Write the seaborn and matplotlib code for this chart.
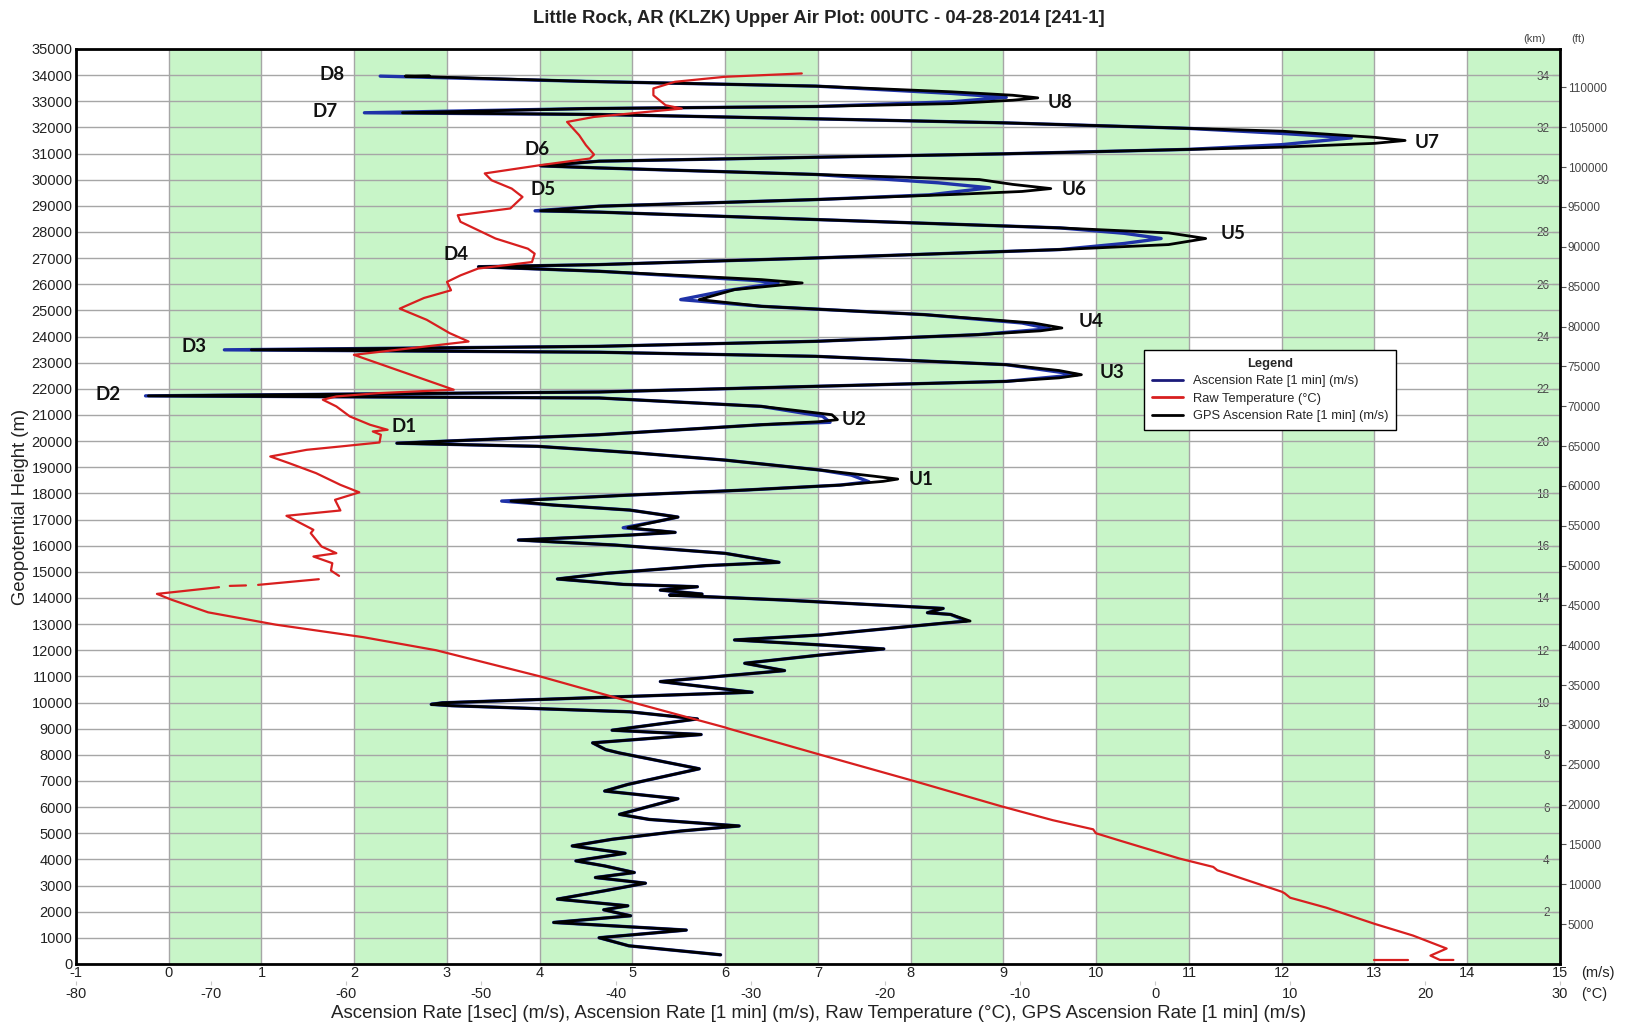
import matplotlib
matplotlib.use("Agg")
import matplotlib.pyplot as plt
from matplotlib.lines import Line2D
import pandas as pd
import seaborn as sns

# ---------------------------------------------------------------------------
# Sounding data, KLZK 00UTC 04-28-2014, flight 241-1
# ---------------------------------------------------------------------------

# GPS ascension rate [1 min] (m/s) and its geopotential height (m), bottom to top
gps_rate = [
    5.95, 4.96, 4.64, 5.58, 4.15, 4.98, 4.69, 4.95, 4.19, 4.70, 5.14, 4.60, 5.02,
    4.70, 4.39, 4.92, 4.35, 4.78, 5.52, 6.15, 5.18, 4.86, 5.49, 4.70, 4.95, 5.72,
    4.86, 4.71, 4.57, 5.74, 4.78, 5.70, 4.97, 3.05, 2.83, 2.95, 6.29, 5.30, 6.64,
    6.21, 7.03, 7.71, 7.03, 6.10, 7.03, 8.48, 8.64, 8.43, 8.18, 8.35, 6.62, 5.40,
    5.75, 5.30, 5.70, 4.90, 4.19, 4.72, 5.79, 6.58, 6.00, 4.81, 3.77, 4.97, 5.46,
    4.95, 5.34, 5.49, 4.97, 4.15, 3.69, 4.97, 6.21, 7.24, 7.70, 7.86, 7.60, 7.03,
    6.00, 4.97, 3.98, 2.46, 4.64, 6.39, 7.00, 7.21, 7.15, 6.39, 4.64, -0.22, 4.64,
    6.98, 9.03, 9.60, 9.84, 9.60, 9.03, 6.98, 4.64, 0.89, 4.64, 6.98, 8.73, 9.40,
    9.63, 9.32, 8.15, 6.39, 5.72, 6.10, 6.83, 6.39, 4.64, 3.34, 4.64, 6.98, 9.61,
    10.78, 11.18, 10.78, 9.61, 6.98, 4.64, 4.01, 4.64, 6.98, 8.44, 9.20, 9.51,
    9.10, 8.74, 6.98, 4.64, 4.01, 4.64, 6.98, 9.00, 12.00, 13.00, 13.33, 13.00,
    12.00, 9.00, 6.98, 4.64, 2.52, 4.50, 6.98, 8.44, 9.10, 9.37, 9.10, 8.44, 6.98,
    4.50, 2.55, 2.81,
]
gps_height = [
    350, 695, 1003, 1296, 1588, 1843, 2072, 2225, 2480, 2800, 3090, 3307, 3498,
    3750, 3943, 4235, 4515, 4769, 5085, 5278, 5529, 5723, 6321, 6614, 6868, 7466,
    8071, 8200, 8458, 8776, 8941, 9373, 9646, 9880, 9930, 9990, 10394, 10802, 11222,
    11502, 11820, 12050, 12203, 12394, 12585, 13080, 13118, 13370, 13436, 13600, 13923, 14110,
    14150, 14300, 14430, 14520, 14726, 14943, 15236, 15363, 15707, 16025, 16216, 16407, 16509,
    16687, 16980, 17095, 17363, 17554, 17707, 17936, 18127, 18318, 18460, 18548, 18660, 18891,
    19273, 19567, 19800, 19920, 20245, 20627, 20740, 20819, 21010, 21329, 21650, 21731, 21880,
    22095, 22286, 22420, 22540, 22700, 22924, 23243, 23400, 23492, 23626, 23818, 24073, 24220,
    24328, 24519, 24838, 25157, 25413, 25795, 26050, 26178, 26497, 26670, 26752, 27007, 27327,
    27518, 27750, 27965, 28156, 28475, 28760, 28810, 28985, 29240, 29432, 29550, 29660,
    29820, 30006, 30200, 30450, 30530, 30708, 30861, 30989, 31244, 31390, 31500, 31620,
    31856, 32175, 32328, 32494, 32560, 32720, 32800, 32910, 33040, 33130, 33230, 33362, 33579,
    33760, 33962, 33975,
]

# Radiosonde ascension rate [1 min] (m/s) and height (m)
asc_rate = [
    5.95, 4.96, 4.64, 5.58, 4.15, 4.98, 4.69, 4.95, 4.19, 4.70, 5.14, 4.60, 5.02,
    4.70, 4.39, 4.92, 4.35, 4.78, 5.52, 6.15, 5.18, 4.86, 5.49, 4.70, 4.95, 5.72,
    4.86, 4.71, 4.57, 5.74, 4.78, 5.70, 4.97, 3.05, 2.83, 2.95, 6.29, 5.30, 6.64,
    6.21, 7.03, 7.71, 7.03, 6.10, 7.03, 8.48, 8.60, 8.43, 8.18, 8.35, 6.62, 5.40,
    5.75, 5.30, 5.70, 4.90, 4.19, 4.72, 5.79, 6.58, 6.00, 4.81, 3.77, 4.97, 5.46,
    4.90, 5.34, 5.49, 4.97, 4.15, 3.59, 4.97, 6.21, 7.24, 7.55, 7.36, 7.03, 6.00,
    4.97, 3.98, 2.46, 4.64, 6.39, 7.13, 7.05, 6.39, 4.64, -0.25, 4.64, 6.98, 9.03,
    9.80, 9.03, 6.98, 4.64, 0.60, 4.64, 6.98, 8.73, 9.50, 9.20, 8.15, 6.39, 5.52,
    6.00, 6.57, 6.30, 4.64, 3.34, 4.64, 6.98, 9.61, 10.30, 10.70, 10.30, 9.61, 6.98,
    4.64, 3.95, 4.64, 6.98, 8.20, 8.85, 8.30, 6.98, 4.64, 4.01, 4.64, 6.98, 9.00,
    11.00, 12.00, 12.75, 12.00, 11.00, 9.00, 6.98, 4.64, 2.11, 4.50, 6.98, 8.44,
    9.03, 8.44, 6.98, 4.50, 2.28,
]
asc_height = [
    350, 695, 1003, 1296, 1588, 1843, 2072, 2225, 2480, 2800, 3090, 3307, 3498,
    3750, 3943, 4235, 4515, 4769, 5085, 5278, 5529, 5723, 6321, 6614, 6868, 7466,
    8071, 8200, 8458, 8776, 8941, 9373, 9646, 9880, 9930, 9990, 10394, 10802, 11222,
    11502, 11820, 12050, 12203, 12394, 12585, 13080, 13118, 13370, 13436, 13600, 13923, 14110,
    14150, 14300, 14430, 14520, 14726, 14943, 15236, 15363, 15707, 16025, 16216, 16407, 16509,
    16687, 16980, 17095, 17363, 17554, 17707, 17936, 18127, 18318, 18446, 18700, 18891, 19273,
    19567, 19800, 19920, 20245, 20627, 20720, 20950, 21329, 21650, 21731, 21880, 22095, 22286,
    22540, 22924, 23243, 23400, 23492, 23626, 23818, 24073, 24300, 24519, 24838, 25157, 25413,
    25750, 26050, 26150, 26497, 26670, 26752, 27007, 27327, 27560, 27750, 27950, 28156, 28475,
    28760, 28810, 28985, 29240, 29420, 29690, 29880, 30200, 30450, 30530, 30708, 30861, 30989,
    31160, 31340, 31600, 31770, 31962, 32175, 32328, 32494, 32560, 32720, 32800, 32980,
    33150, 33300, 33579, 33760, 33962,
]

# Raw temperature (deg C) and height (m); the sounding has short data gaps
# above the tropopause, so it is kept as separate runs.
temp_c = [
    # on the pad
    16.2, 18.7,
    # surface to tropopause
    22.1, 21.1, 20.4, 21.6, 19.1, 16.25, 12.7, 10.0, 9.6, 9.4, 4.6, 4.3, 1.8,
    -2.5, -4.4, -4.6, -7.6, -11.4, -17.9, -24.8, -31.6, -31.9, -38.7, -45.6,
    -53.3, -58.7, -65.2, -70.2, -72.9, -74.0, -69.4,
    # broken trace
    -68.6, -67.4,
    -66.5, -62.0,
    # stratosphere
    -60.5, -61.1, -61.0, -62.4, -60.7, -61.8, -62.6, -62.4, -64.4, -60.4, -60.8,
    -59.0, -60.4, -62.2, -64.2, -65.6, -62.9, -60.4, -57.5, -57.4, -58.0, -56.9,
    -58.2, -59.7, -60.7, -61.7, -60.7, -57.5, -52.0, -59.4, -50.9, -52.3, -54.0,
    -56.0, -54.2, -52.2, -52.5, -51.5, -50.2, -46.2, -46.0, -46.5, -48.9, -51.5,
    -51.7, -47.8, -46.9, -47.7, -49.2, -49.7, -45.6, -41.9, -41.6, -42.2, -42.7,
    -43.6, -41.6, -35.1, -36.3, -37.2, -37.2, -35.6, -31.9, -26.2,
]
temp_height = [
    150, 150,
    154, 154, 320, 590, 1088, 1536, 2150, 2534, 2700, 2760, 3584, 3712, 4032,
    4700, 5000, 5150, 5500, 6030, 7000, 8000, 9000, 9050, 10000, 11000,
    12000, 12500, 12980, 13450, 13930, 14156, 14412,
    14462, 14480,
    14501, 14718,
    14845, 15048, 15330, 15586, 15713, 15969, 16480, 16607, 17143, 17347, 17755,
    18041, 18327, 18774, 19157, 19412, 19667, 19795, 19948, 20242, 20370, 20433,
    20625, 20944, 21327, 21583, 21710, 21838, 21966, 23300, 23810, 24130, 24640,
    25068, 25476, 25770, 26090, 26340, 26600, 26850, 27170, 27360, 27750, 28390,
    28640, 28900, 29340, 29660, 29980, 30240, 30555, 30810, 30960, 31320, 31700,
    32210, 32400, 32720, 32850, 33230, 33490, 33745, 33936, 34064,
]
temp_run = [0] * 2 + [1] * 31 + [2] * 2 + [3] * 2 + [4] * 64

# Labelled turning points of the oscillating flight
turn_labels = ["D8", "D7", "D6", "D5", "D4", "D3", "D2", "D1",
               "U8", "U7", "U6", "U5", "U4", "U3", "U2", "U1"]

legend_labels = ["Ascension Rate [1 min] (m/s)", "Raw Temperature (\u00b0C)",
                 "GPS Ascension Rate [1 min] (m/s)"]

rate_ticks = list(range(-1, 16))
temp_ticks = list(range(-80, 31, 10))
height_ticks = list(range(0, 35001, 1000))
km_ticks = list(range(2, 35, 2))
ft_ticks = list(range(5000, 110001, 5000))

# ---------------------------------------------------------------------------
sns.set_theme(style="white")
plt.rcParams["font.family"] = ["Liberation Sans", "DejaVu Sans"]
plt.rcParams["axes.unicode_minus"] = False

BLUE = "#1f32a8"
RED = "#d81f1f"
BLACK = "#000000"
GREEN = "#c8f5c8"
GRID = "#a6a6a6"

fig = plt.figure(figsize=(16.27, 10.29), dpi=100)
ax = fig.add_axes([0.0467, 0.0632, 0.9121, 0.8892])
ax.set_facecolor("white")

# alternating green bands
for x0 in range(0, 15, 2):
    ax.axvspan(x0, x0 + 1, color=GREEN, lw=0, zorder=0)

ax.set_xticks(rate_ticks)
ax.set_yticks(height_ticks)
ax.grid(True, color=GRID, lw=1.0, zorder=0.5)
ax.set_axisbelow(True)

asc_df = pd.DataFrame({"rate": asc_rate, "height": asc_height})
gps_df = pd.DataFrame({"rate": gps_rate, "height": gps_height})
sns.lineplot(data=asc_df, x="rate", y="height", sort=False, estimator=None,
             color=BLUE, lw=2.4, ax=ax, zorder=3)
sns.lineplot(data=gps_df, x="rate", y="height", sort=False, estimator=None,
             color=BLACK, lw=2.0, ax=ax, zorder=4)

# temperature on its own x scale, sharing the height axis
axT = ax.twiny()
temp_df = pd.DataFrame({"temp": temp_c, "height": temp_height, "run": temp_run})
sns.lineplot(data=temp_df, x="temp", y="height", units="run", sort=False,
             estimator=None, color=RED, lw=1.6, ax=axT)

ax.set_xlim(-1, 15)
axT.set_xlim(-80, 30)
ax.set_ylim(0, 35000)
for a in (ax, axT):
    a.set_xlabel("")
    a.set_ylabel("")

# main axes ticks and frame
ax.tick_params(axis="y", length=0, pad=2.5, labelsize=10.5, labelcolor="#222222")
ax.tick_params(axis="x", length=0, pad=1.5, labelsize=10.5, labelcolor="#222222")
for s in ax.spines.values():
    s.set_visible(True)
    s.set_color("black")
    s.set_linewidth(2.0)

# second row of x labels in deg C
axT.set_xticks(temp_ticks)
axT.xaxis.set_ticks_position("bottom")
axT.xaxis.set_label_position("bottom")
axT.spines["bottom"].set_position(("outward", 12.5))
for s in axT.spines.values():
    s.set_visible(False)
axT.tick_params(axis="x", length=3, width=0.8, color="#c8c8c8", pad=1,
                labelsize=10.5, labelcolor="#222222")
axT.grid(False)

# right-hand height scales: km inside, ft outside
km_ax = ax.secondary_yaxis(1.0, functions=(lambda m: m / 1000.0, lambda k: k * 1000.0))
km_ax.set_alignment("left")
km_ax.set_yticks(km_ticks)
km_ax.tick_params(axis="y", length=6, width=0.8, color="#555555", pad=1.5,
                  labelsize=8.5, labelcolor="#444444")
km_ax.spines["left"].set_visible(False)

ft_ax = ax.secondary_yaxis("right", functions=(lambda m: m * 3.28084, lambda f: f / 3.28084))
ft_ax.set_yticks(ft_ticks)
ft_ax.tick_params(axis="y", length=4, width=0.8, color="#555555", pad=1.5,
                  labelsize=8.5, labelcolor="#444444")
ft_ax.spines["right"].set_visible(False)

# turning point labels
turn_pos = [(1.76, 34009), (1.685, 32594), (3.97, 31140), (4.035, 29610),
            (3.097, 27123), (0.272, 23604), (-0.655, 21767), (2.536, 20543),
            (9.61, 32938), (13.566, 31408), (9.76, 29610), (11.474, 27927),
            (9.943, 24560), (10.17, 22609), (7.388, 20811), (8.11, 18516)]
for lab, (px, py) in zip(turn_labels, turn_pos):
    ax.text(px, py, lab, ha="center", va="center", fontsize=13.5,
            fontweight="bold", family=["Lato", "DejaVu Sans"], color="#111111", zorder=6)

# legend box
handles = [Line2D([], [], color="#1a1a7a", lw=2.0),
           Line2D([], [], color=RED, lw=2.0),
           Line2D([], [], color=BLACK, lw=2.0)]
leg = ax.legend(handles, legend_labels, loc="upper left",
                bbox_to_anchor=(0.7197, 0.671), borderaxespad=0, frameon=True,
                fancybox=False, framealpha=1, edgecolor="black", fontsize=9.3,
                title="Legend", title_fontproperties={"weight": "bold", "size": 9.3},
                handlelength=2.4, handletextpad=0.8, labelspacing=0.42,
                borderpad=0.6)
leg.get_frame().set_linewidth(1.0)
leg.set_zorder(10)

# titles and axis captions
fig.text(0.503, 0.982, "Little Rock, AR (KLZK) Upper Air Plot: 00UTC - 04-28-2014 [241-1]",
         ha="center", va="center", fontsize=13.3, fontweight="bold", color="#222222")
fig.text(0.503, 0.0146,
         "Ascension Rate [1sec] (m/s), Ascension Rate [1 min] (m/s), Raw Temperature (\u00b0C), "
         "GPS Ascension Rate [1 min] (m/s)",
         ha="center", va="center", fontsize=13.5, color="#222222")
fig.text(0.0129, 0.507, "Geopotential Height (m)", rotation=90, ha="center",
         va="center", fontsize=13.3, color="#222222")
fig.text(0.9717, 0.0544, "(m/s)", ha="left", va="center", fontsize=10.5, color="#222222")
fig.text(0.9717, 0.034, "(\u00b0C)", ha="left", va="center", fontsize=10.5, color="#222222")
fig.text(0.936, 0.9617, "(km)", ha="left", va="center", fontsize=8, color="#444444")
fig.text(0.9656, 0.9617, "(ft)", ha="left", va="center", fontsize=8, color="#444444")

fig.savefig("out.png", dpi=100)
